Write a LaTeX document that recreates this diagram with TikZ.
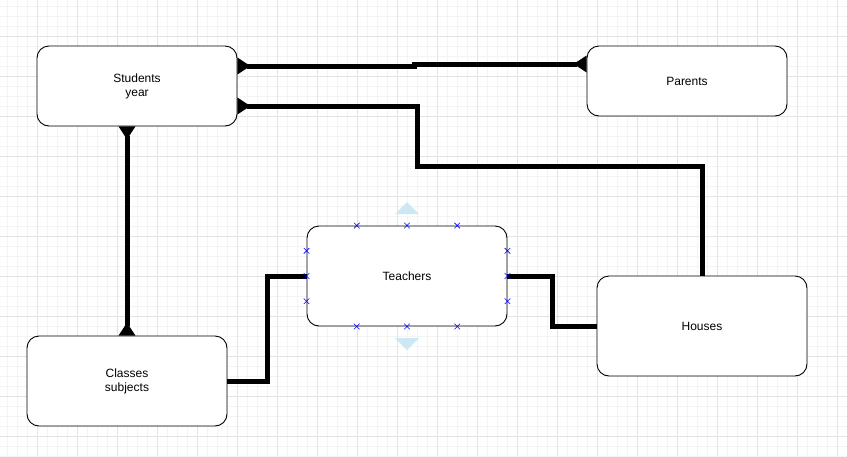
\documentclass[tikz,border=0pt]{standalone}
\usepackage{fontspec}
\setmainfont{Liberation Sans}
\usetikzlibrary{arrows.meta,shapes.misc,calc}
\definecolor{minorgrid}{HTML}{F4F4F4}
\definecolor{majorgrid}{HTML}{E4E4E4}
\definecolor{hintblue}{HTML}{CCE8F5}
\tikzset{
	entity/.style={draw,line width=0.9pt,fill=white,rounded corners=12pt,inner sep=0pt,align=center,font=\fontsize{12}{14}\selectfont},
	link/.style={line width=5pt},
	crow/.tip={Triangle[reversed,width=16pt,length=13pt]},
	xmark/.style={cross out,draw=blue,line width=0.6pt,minimum size=5pt,inner sep=0pt}
}
\begin{document}
\begin{tikzpicture}[x=1pt,y=-1pt]
			\useasboundingbox (0,0) rectangle (847,456);
			\fill[white] (0,0) rectangle (847,456);
			% grid
			\foreach \x in {7,17,...,847} \draw[minorgrid,line width=0.8pt] (\x,0) -- (\x,456);
			\foreach \y in {6,16,...,456} \draw[minorgrid,line width=0.8pt] (0,\y) -- (847,\y);
			\foreach \x in {37,77,...,837} \draw[majorgrid,line width=0.8pt] (\x,0) -- (\x,456);
			\foreach \y in {36,76,...,436} \draw[majorgrid,line width=0.8pt] (0,\y) -- (847,\y);
			% entities
			\node[entity,minimum width=200pt,minimum height=80pt] (students) at (137,86) {Students\\year};
			\node[entity,minimum width=200pt,minimum height=70pt] (parents) at (687,81) {Parents};
			\node[entity,minimum width=200pt,minimum height=100pt] (teachers) at (407,276) {Teachers};
			\node[entity,minimum width=200pt,minimum height=90pt] (classes) at (127,381) {Classes\\subjects};
			\node[entity,minimum width=210pt,minimum height=100pt] (houses) at (702,326) {Houses};
			% connectors
			\draw[link,{crow}-{crow}] ([yshift=20pt]students.east) -- ++(177,0) |- ([yshift=17pt]parents.west);
			\draw[link,{crow}-] ([yshift=-20pt]students.east) -| (417,166) -| (houses.north);
			\draw[link,{crow}-{crow}] (students.south -| classes.north) -- (classes.north);
			\draw[link] (classes.east) -- ++(40,0) |- (teachers.west);
			\draw[link] (teachers.east) -- ++(45,0) |- (houses.west);
			% selection handles
			\fill[hintblue] (395,214) -- (407,202) -- (419,214) -- cycle;
			\fill[hintblue] (395,338) -- (407,350) -- (419,338) -- cycle;
			\foreach \p in {0.25,0.5,0.75} {
				\node[xmark] at ($(teachers.north west)!\p!(teachers.north east)$) {};
				\node[xmark] at ($(teachers.south west)!\p!(teachers.south east)$) {};
				\node[xmark] at ($(teachers.north west)!\p!(teachers.south west)$) {};
				\node[xmark] at ($(teachers.north east)!\p!(teachers.south east)$) {};
			}
		\end{tikzpicture}
\end{document}
